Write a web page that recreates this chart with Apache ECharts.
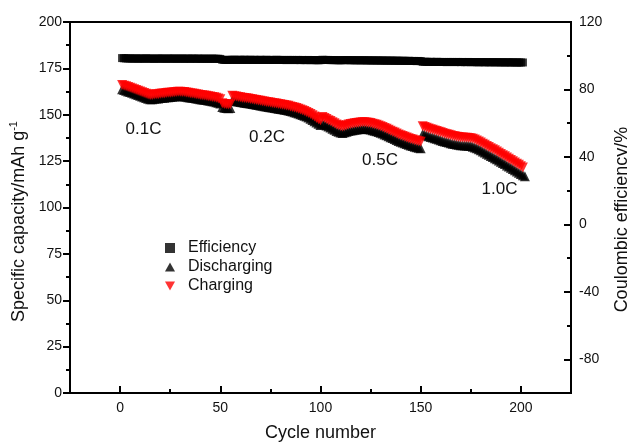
<!DOCTYPE html>
<html>
<head>
<meta charset="utf-8">
<script src="https://cdn.jsdelivr.net/npm/echarts@6/dist/echarts.min.js"></script>
<style>html,body{margin:0;padding:0;background:#fff}#c{width:627px;height:444px}</style>
</head>
<body>
<div id="c"></div>
<script>
// Cycle numbers start at 1 for every series
const rateLabels = ['0.1C', '0.2C', '0.5C', '1.0C'];
const xTickLabels = [0, 50, 100, 150, 200];
const leftTickLabels = [0, 25, 50, 75, 100, 125, 150, 175, 200];
const rightTickLabels = [-80, -40, 0, 40, 80, 120];

// Coulombic efficiency (%), cycles 1..201
const efficiency = [
98.6,98.5,98.4,98.4,98.4,98.3,98.3,98.4,98.3,98.3,98.3,98.3,98.4,98.3,98.3,98.3,98.2,98.3,98.3,98.3,
98.3,98.3,98.2,98.3,98.3,98.3,98.3,98.2,98.3,98.3,98.3,98.2,98.3,98.3,98.2,98.3,98.3,98.2,98.3,98.2,
98.2,98.3,98.2,98.2,98.2,98.3,98.2,98.2,98.2,98.1,
97.6,97.5,97.5,97.5,97.6,97.6,97.6,97.5,97.6,97.6,97.5,97.6,97.6,97.5,97.6,97.5,97.6,97.5,97.5,97.6,
97.5,97.5,97.6,97.5,97.5,97.5,97.5,97.6,97.5,97.5,97.5,97.5,97.4,97.5,97.5,97.5,97.4,97.5,97.5,97.4,
97.5,97.4,97.4,97.5,97.4,97.4,97.4,97.4,97.3,97.4,
97.6,97.5,97.5,97.5,97.4,97.4,97.4,97.4,97.3,97.3,97.4,97.4,97.4,97.4,97.3,97.4,97.3,97.3,97.3,97.3,
97.3,97.3,97.2,97.3,97.2,97.2,97.2,97.2,97.2,97.1,97.2,97.1,97.1,97.1,97.1,97.1,97.0,97.1,97.0,97.0,
97.0,97.0,96.9,97.0,96.9,96.9,96.9,96.8,96.9,96.8,
96.4,96.4,96.4,96.3,96.4,96.3,96.3,96.4,96.3,96.3,96.3,96.3,96.2,96.3,96.3,96.3,96.2,96.3,96.3,96.2,
96.3,96.2,96.2,96.3,96.2,96.2,96.2,96.2,96.1,96.2,96.2,96.1,96.2,96.1,96.1,96.2,96.1,96.1,96.1,96.1,
96.1,96.0,96.1,96.1,96.0,96.1,96.0,96.0,96.0,96.0,96.0
];

// Discharge capacity (mAh/g), cycles 1..202
const discharging = [
163.7,163.3,163.0,162.6,162.2,161.8,161.4,161.0,160.6,160.2,159.8,159.4,159.0,158.6,158.3,158.4,158.6,158.7,158.8,159.0,
159.1,159.2,159.4,159.5,159.6,159.7,159.8,160.0,160.1,160.1,160.0,159.9,159.7,159.5,159.3,159.2,159.0,158.8,158.6,158.4,
158.2,158.1,157.9,157.7,157.5,157.3,157.1,156.8,156.5,156.1,
154.2,153.8,153.6,153.5,153.6,
157.7,157.5,157.3,157.1,156.9,156.7,156.5,156.4,156.2,156.0,155.8,155.6,155.4,155.2,155.0,154.8,154.6,154.4,154.2,154.1,
153.9,153.7,153.5,153.3,153.1,152.9,152.7,152.5,152.3,152.0,151.7,151.4,151.1,150.7,150.3,149.9,149.5,149.0,148.5,147.9,
147.2,146.5,145.8,145.1,144.5,
145.3,144.8,144.2,143.6,143.1,142.5,141.9,141.3,140.8,140.4,140.2,140.5,140.9,141.2,141.5,141.7,141.9,142.1,142.2,142.3,
142.4,142.4,142.3,142.2,142.0,141.7,141.4,141.1,140.7,140.3,139.9,139.4,138.9,138.4,137.9,137.4,136.9,136.4,135.9,135.4,
135.0,134.6,134.2,133.8,133.4,133.1,132.8,132.5,132.2,131.9,
139.6,139.2,138.8,138.4,138.0,137.7,137.3,137.0,136.6,136.3,135.9,135.6,135.3,135.0,134.7,134.4,134.2,134.0,133.8,133.6,
133.5,133.4,133.4,133.3,133.1,132.8,132.4,131.9,131.4,130.8,130.2,129.6,129.0,128.4,127.8,127.2,126.6,126.0,125.3,124.7,
124.0,123.4,122.7,122.1,121.4,120.8,120.1,119.4,118.8,118.1,117.4,116.9
];

// Charge capacity (mAh/g), cycles 1..201
const charging = [
166.0,165.6,165.3,164.9,164.5,164.1,163.7,163.3,162.9,162.5,162.1,161.7,161.3,160.9,160.6,160.7,160.9,161.0,161.1,161.3,
161.4,161.5,161.7,161.8,161.9,162.0,162.1,162.3,162.4,162.4,162.3,162.2,162.0,161.8,161.6,161.5,161.3,161.1,160.9,160.7,
160.5,160.4,160.2,160.0,159.8,159.6,159.4,159.1,158.8,158.4,
156.2,155.8,155.6,155.5,155.6,
160.2,160.0,159.8,159.6,159.4,159.2,159.0,158.9,158.7,158.5,158.3,158.1,157.9,157.7,157.5,157.3,157.1,156.9,156.7,156.6,
156.4,156.2,156.0,155.8,155.6,155.4,155.2,155.0,154.8,154.5,154.2,153.9,153.6,153.2,152.8,152.4,152.0,151.5,151.0,150.4,
149.7,149.0,148.3,147.6,147.0,
148.8,148.3,147.7,147.1,146.6,146.0,145.4,144.8,144.3,143.9,143.7,144.0,144.4,144.7,145.0,145.2,145.4,145.6,145.7,145.8,
145.9,145.9,145.8,145.7,145.5,145.2,144.9,144.6,144.2,143.8,143.4,142.9,142.4,141.9,141.4,140.9,140.4,139.9,139.4,138.9,
138.5,138.1,137.7,137.3,136.9,136.6,136.3,136.0,135.7,135.4,
143.8,143.4,143.0,142.6,142.2,141.9,141.5,141.2,140.8,140.5,140.1,139.8,139.5,139.2,138.9,138.6,138.4,138.2,138.0,137.8,
137.7,137.6,137.6,137.5,137.3,137.0,136.6,136.1,135.6,135.0,134.4,133.8,133.2,132.6,132.0,131.4,130.8,130.2,129.5,128.9,
128.2,127.6,126.9,126.3,125.6,125.0,124.3,123.6,123.0,122.3,121.6
];

const FONT = '"Liberation Sans", Arial, sans-serif';
const toPairs = arr => arr.map((v, i) => [i + 1, v]);

const chart = echarts.init(document.getElementById('c'), null, {renderer: 'canvas'});
const axisLineStyle = {color: '#000', width: 2};

chart.setOption({
  animation: false,
  backgroundColor: '#fff',
  textStyle: {fontFamily: FONT},
  grid: {left: 70, right: 56, top: 22, bottom: 51, show: true, borderColor: '#000', borderWidth: 2, containLabel: false, outerBoundsMode: 'none'},
  legend: {
    orient: 'vertical', left: 160, top: 235, itemWidth: 10, itemHeight: 10, itemGap: 3,
    textStyle: {fontSize: 16, color: '#111', fontFamily: FONT, padding: [0, 0, 0, 8]},
    data: [
      {name: 'Efficiency', icon: 'path://M1,1 L9,1 L9,9 L1,9 Z', itemStyle: {color: '#000'}},
      {name: 'Discharging', icon: 'path://M5,0 L10,9 L0,9 Z', itemStyle: {color: '#000'}},
      {name: 'Charging', icon: 'path://M0,0 L10,0 L5,9 Z', itemStyle: {color: '#ff0000'}}
    ]
  },
  xAxis: [{
    type: 'value', position: 'bottom', min: -25, max: 225, interval: 25,
    name: 'Cycle number', nameLocation: 'middle', nameGap: 31,
    nameTextStyle: {fontSize: 18, color: '#111', fontFamily: FONT},
    axisLine: {lineStyle: axisLineStyle, onZero: false},
    axisTick: {inside: true, length: 7, lineStyle: {width: 2, color: '#000'}, customValues: xTickLabels},
    axisLabel: {fontSize: 14, color: '#111', margin: 8, customValues: xTickLabels},
    splitLine: {show: false}
  }, {
    type: 'value', position: 'bottom', min: -25, max: 225, interval: 25,
    axisLine: {show: false, onZero: false},
    axisTick: {inside: true, length: 4, lineStyle: {width: 2, color: '#000'}, customValues: [25, 75, 125, 175]},
    axisLabel: {show: false},
    splitLine: {show: false}
  }],
  yAxis: [{
    type: 'value', position: 'left', min: 0, max: 200, interval: 25,
    name: 'Specific capacity/mAh g{sup|-1}', nameLocation: 'middle', nameGap: 40, nameRotate: 90,
    nameTextStyle: {fontSize: 18, color: '#111', fontFamily: FONT, padding: [0, 28, 0, 0],
      rich: {sup: {fontSize: 11, color: '#111', fontFamily: FONT, padding: [0, 0, 9, 0]}}},
    axisLine: {show: true, lineStyle: axisLineStyle, onZero: false},
    axisTick: {inside: false, length: 7, lineStyle: {width: 2, color: '#000'}},
    minorTick: {show: true, splitNumber: 2, length: 4, lineStyle: {width: 2, color: '#000'}},
    axisLabel: {fontSize: 14, color: '#111', margin: 8},
    splitLine: {show: false}
  }, {
    type: 'value', position: 'right', min: -100, max: 120, interval: 20,
    name: 'Coulombic efficiency/%', nameLocation: 'middle', nameGap: 37, nameRotate: 90,
    nameTextStyle: {fontSize: 18, color: '#111', fontFamily: FONT, padding: [0, 24, 0, 0]},
    axisLine: {show: true, lineStyle: axisLineStyle, onZero: false},
    axisTick: {inside: true, length: 7, lineStyle: {width: 2, color: '#000'}, customValues: [-80, -40, 0, 40, 80]},
    axisLabel: {fontSize: 14, color: '#111', margin: 8, customValues: rightTickLabels},
    splitLine: {show: false}
  }, {
    type: 'value', position: 'right', min: -100, max: 120, interval: 20,
    axisLine: {show: false, onZero: false},
    axisTick: {inside: true, length: 4, lineStyle: {width: 2, color: '#000'}, customValues: [-60, -20, 20, 60, 100]},
    axisLabel: {show: false},
    splitLine: {show: false}
  }],
  series: [{
    name: 'Efficiency', type: 'scatter', xAxisIndex: 0, yAxisIndex: 1,
    symbol: 'rect', symbolSize: 8, itemStyle: {color: '#000'},
    data: toPairs(efficiency)
  }, {
    name: 'Discharging', type: 'scatter', xAxisIndex: 0, yAxisIndex: 0,
    symbol: 'triangle', symbolSize: 10, itemStyle: {color: '#000'},
    data: toPairs(discharging)
  }, {
    name: 'Charging', type: 'scatter', xAxisIndex: 0, yAxisIndex: 0,
    symbol: 'triangle', symbolRotate: 180, symbolSize: 10, itemStyle: {color: '#ff0000'},
    data: toPairs(charging)
  }],
  graphic: [
    {type: 'text', x: 143.5, y: 129.5, style: {text: rateLabels[0], font: '17px ' + FONT, fill: '#111', align: 'center', verticalAlign: 'middle'}},
    {type: 'text', x: 267, y: 137, style: {text: rateLabels[1], font: '17px ' + FONT, fill: '#111', align: 'center', verticalAlign: 'middle'}},
    {type: 'text', x: 380, y: 160.5, style: {text: rateLabels[2], font: '17px ' + FONT, fill: '#111', align: 'center', verticalAlign: 'middle'}},
    {type: 'text', x: 499.5, y: 189, style: {text: rateLabels[3], font: '17px ' + FONT, fill: '#111', align: 'center', verticalAlign: 'middle'}}
  ]
});
</script>
</body>
</html>
